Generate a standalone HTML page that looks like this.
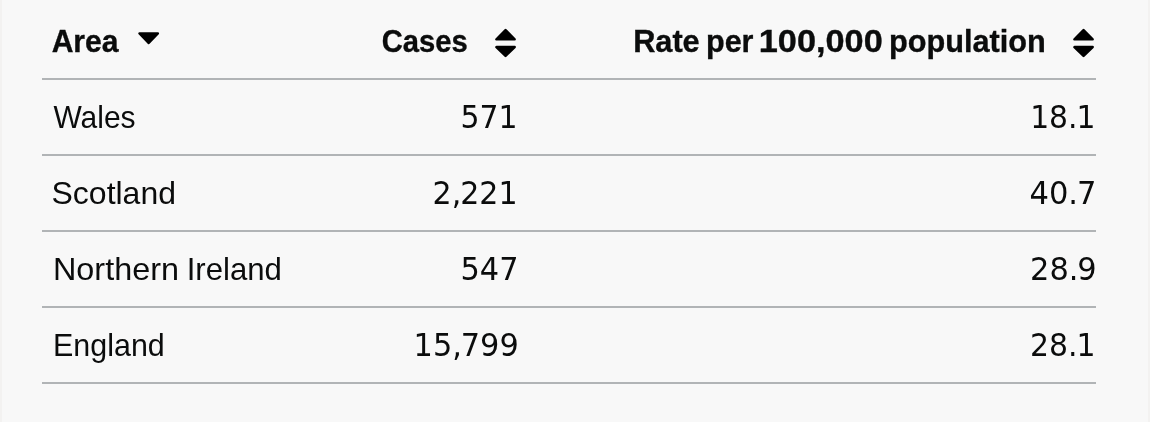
<!DOCTYPE html>
<html lang="en">
<head>
<meta charset="utf-8">
<title>Cases and rate per 100,000 population by area</title>
<style>
  html, body { margin: 0; padding: 0; background: #ffffff; }
  body { width: 1168px; height: 422px; overflow: hidden; position: relative;
         font-family: "Liberation Sans", Arial, sans-serif; color: #0b0c0c; }
  .panel { position: absolute; left: 0; top: 0; width: 1146px; height: 422px;
           background: #f8f8f8; border-left: 2px solid #f3f2f1; border-right: 2px solid #f3f2f1; }
  table { position: absolute; left: 40px; top: 0; width: 1054px; border-collapse: collapse;
          border-spacing: 0; table-layout: fixed; font-size: 32px; line-height: 40px; }
  th, td { position: relative; padding: 0; border-bottom: 2px solid #b1b4b6; font-weight: 400;
           white-space: nowrap; text-align: left; }
  th { height: 78px; font-weight: 700; font-size: 32px; -webkit-text-stroke: 0.35px #0b0c0c; }
  td { height: 74px; }
  .w { position: absolute; top: 17px; white-space: pre; transform-origin: 0 50%; }
  th .w { top: 21px; }
  .n .w { font-family: "DejaVu Sans", "Liberation Sans", sans-serif; font-size: 31.2px; top: 17px; }
  .p { letter-spacing: -1.15px; }
  .ico { position: absolute; }
</style>
</head>
<body>
<div class="panel">
<table>
  <colgroup><col style="width:300px"><col style="width:176px"><col style="width:578px"></colgroup>
  <thead>
    <tr>
      <th scope="col" aria-sort="descending">
        <span class="w" style="left:9px;transform:translateX(0.63px) scaleX(0.9408)">Area</span>
        <svg class="ico" style="left:92px;top:0" width="30" height="78" viewBox="0 0 30 78" aria-hidden="true" focusable="false"><path d="M5.55 33.45H23.80L14.67 42.95Z" fill="#000" stroke="#000" stroke-width="2.6" stroke-linejoin="round"/></svg>
      </th>
      <th scope="col" aria-sort="none">
        <span class="w" style="left:39px;transform:translateX(0.69px) scaleX(0.9117)">Cases</span>
        <svg class="ico" style="left:148px;top:0" width="30" height="78" viewBox="0 0 30 78" aria-hidden="true" focusable="false"><path d="M6.47 39.30H24.63L15.55 30.10Z M6.47 47.05H24.63L15.55 55.80Z" fill="#000" stroke="#000" stroke-width="2.6" stroke-linejoin="round"/></svg>
      </th>
      <th scope="col" aria-sort="none">
        <span class="w" style="left:115px;transform:translateX(0.14px) scaleX(0.9597)">Rate</span>
        <span class="w" style="left:187px;transform:translateX(0.98px) scaleX(0.9541)">per</span>
        <span class="w" style="left:240px;transform:translateX(0.75px) scaleX(1.0719)">100,000</span>
        <span class="w" style="left:371px;transform:translateX(0.02px) scaleX(0.9592)">population</span>
        <svg class="ico" style="left:550px;top:0" width="30" height="78" viewBox="0 0 30 78" aria-hidden="true" focusable="false"><path d="M6.47 39.30H24.63L15.55 30.10Z M6.47 47.05H24.63L15.55 55.80Z" fill="#000" stroke="#000" stroke-width="2.6" stroke-linejoin="round"/></svg>
      </th>
    </tr>
  </thead>
  <tbody>
    <tr>
      <td>
        <span class="w" style="left:11px;transform:translateX(0.40px) scaleX(0.9371)">Wales</span>
      </td>
      <td class="n">
        <span class="w" style="left:118px;transform:translateX(0.48px) scaleX(0.9593)">571</span>
      </td>
      <td class="n">
        <span class="w" style="left:512px;transform:translateX(0.13px) scaleX(0.9553)">18<span class="p">.</span>1</span>
      </td>
    </tr>
    <tr>
      <td>
        <span class="w" style="left:9px;transform:translateX(0.54px) scaleX(0.9992)">Scotland</span>
      </td>
      <td class="n">
        <span class="w" style="left:90px;transform:translateX(0.62px) scaleX(0.9630)">2<span class="p">,</span>221</span>
      </td>
      <td class="n">
        <span class="w" style="left:511px;transform:translateX(0.42px) scaleX(0.9805)">40<span class="p">.</span>7</span>
      </td>
    </tr>
    <tr>
      <td>
        <span class="w" style="left:10px;transform:translateX(1.00px) scaleX(1.0114)">Northern</span>
        <span class="w" style="left:144px;transform:translateX(0.71px) scaleX(0.9733)">Ireland</span>
      </td>
      <td class="n">
        <span class="w" style="left:118px;transform:translateX(0.46px) scaleX(0.9750)">547</span>
      </td>
      <td class="n">
        <span class="w" style="left:512px;transform:translateX(0.08px) scaleX(0.9753)">28<span class="p">.</span>9</span>
      </td>
    </tr>
    <tr>
      <td>
        <span class="w" style="left:11px;transform:translateX(0.06px) scaleX(0.9514)">England</span>
      </td>
      <td class="n">
        <span class="w" style="left:71px;transform:translateX(0.60px) scaleX(0.9738)">15<span class="p">,</span>799</span>
      </td>
      <td class="n">
        <span class="w" style="left:512px;transform:translateX(0.11px) scaleX(0.9576)">28<span class="p">.</span>1</span>
      </td>
    </tr>
  </tbody>
</table>
</div>
</body>
</html>
